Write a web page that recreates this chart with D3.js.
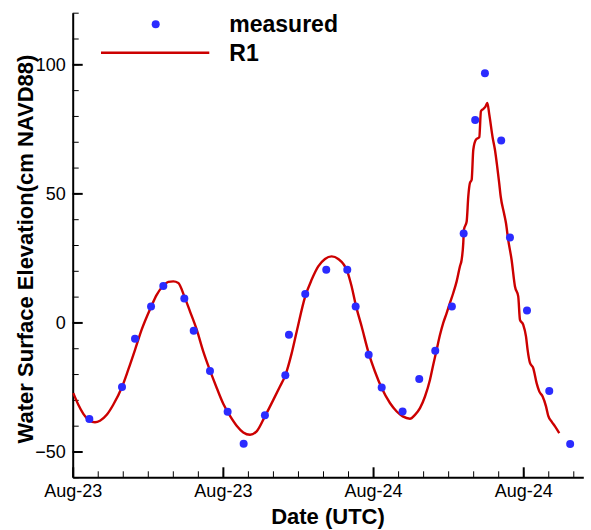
<!DOCTYPE html>
<html>
<head>
<meta charset="utf-8">
<script src="https://cdn.jsdelivr.net/npm/d3@7"></script>
<style>
  body { margin: 0; background: #fff; }
  svg { display: block; }
  text { font-family: "Liberation Sans", Arial, sans-serif; }
</style>
</head>
<body>
<div id="chart"></div>
<script>
// hours since Aug-23 00:00 UTC
var measHours = [1.33, 3.94, 4.98, 6.26, 7.24, 8.92, 9.67, 10.97, 12.38, 13.66,
  15.36, 16.99, 17.28, 18.58, 20.26, 21.94, 22.61, 23.65, 24.69, 26.36,
  27.69, 28.97, 30.30, 31.24, 32.16, 32.94, 34.24, 34.94, 36.30, 38.08, 39.75]
var measValues = [-37.4, -25.0, -6.3, 6.2, 14.1, 9.3, -3.2, -18.8, -34.6, -47.0,
  -36.0, -20.5, -4.8, 11.0, 20.4, 20.4, 6.2, -12.5, -25.2, -34.5,
  -21.9, -11.0, 6.2, 34.5, 78.4, 96.5, 70.5, 32.9, 4.6, -26.6, -47.1]

var r1Hours = [0.05, 0.45, 0.85, 1.33, 1.78, 2.18, 2.72, 3.24, 3.94, 4.44,
  4.98, 5.51, 6.26, 6.71, 7.24, 7.64, 8.04, 8.44, 8.92, 9.37,
  9.91, 10.43, 10.97, 11.51, 12.03, 12.57, 13.10, 13.63, 14.17, 14.70,
  15.36, 16.03, 16.56, 16.99, 17.50, 17.90, 18.58, 19.09, 19.62, 20.16,
  20.69, 21.22, 21.94, 22.29, 22.61, 23.09, 23.65, 24.15, 24.69, 25.35,
  25.89, 26.37, 26.95, 27.35, 27.75, 28.15, 28.55, 28.81, 29.08, 29.35,
  29.61, 29.88, 30.14, 30.41, 30.68, 30.94, 31.08, 31.21, 31.26, 31.48,
  31.61, 31.74, 31.88, 32.01, 32.22, 32.49, 32.62, 32.81, 32.97, 33.13,
  33.29, 33.56, 33.74, 33.92, 34.08, 34.20, 34.46, 34.62, 34.80, 35.07,
  35.34, 35.60, 35.74, 36.00, 36.22, 36.35, 36.54, 36.80, 37.07, 37.28,
  37.55, 37.82, 38.00, 38.27, 38.54, 38.88]
var r1Values = [-27.4, -31.9, -35.4, -38.0, -38.7, -38.1, -35.8, -31.9, -25.0, -18.3,
  -10.6, -2.8, 6.0, 10.7, 14.2, 15.7, 15.9, 15.3, 10.1, 4.3,
  -2.8, -11.2, -18.6, -25.4, -31.5, -36.2, -40.0, -42.6, -43.5, -42.2,
  -36.4, -30.0, -24.8, -20.5, -11.9, -3.5, 10.1, 16.5, 21.7, 24.6,
  25.6, 24.6, 19.8, 13.9, 6.9, -1.6, -11.9, -19.0, -25.4, -31.2,
  -34.5, -36.4, -37.3, -35.8, -33.2, -28.7, -22.2, -16.4, -10.6, -4.8,
  -0.2, 3.6, 7.5, 11.4, 15.9, 21.7, 24.3, 30.8, 35.9, 39.1,
  48.8, 54.0, 55.3, 66.9, 70.8, 71.8, 81.8, 82.7, 83.5, 85.0,
  80.5, 71.5, 66.9, 60.4, 54.0, 48.8, 42.4, 38.5, 32.0, 24.3,
  13.9, 10.1, 1.0, -0.9, -5.4, -10.6, -15.7, -17.7, -23.5, -26.7,
  -28.7, -32.5, -36.2, -38.4, -40.3, -42.9]

var yMajor = [-50, 0, 50, 100]
var legendLabels = ["measured", "R1"]

var base = Date.UTC(2017, 7, 23)
function toDate (h) { return new Date(base + h * 3600000) }

var width = 591
var height = 530
var plotLeft = 72.7, plotRight = 583.3, plotTop = 12.7, plotBottom = 477.3

var svg = d3.select('#chart').append('svg')
    .attr('width', width)
    .attr('height', height)

var x = d3.scaleUtc()
    .domain([toDate(0), toDate(40.8)])
    .range([plotLeft, plotRight])
var y = d3.scaleLinear()
    .domain([-60, 120])
    .range([plotBottom, plotTop])

// minor ticks
svg.append('g')
    .attr('transform', 'translate(0,' + plotBottom + ')')
    .call(d3.axisBottom(x).ticks(d3.utcHour.every(2)).tickSize(-6).tickFormat(''))
    .call(g => g.select('.domain').remove())
    .selectAll('line').attr('stroke-width', 1)

svg.append('g')
    .attr('transform', 'translate(' + plotLeft + ',0)')
    .call(d3.axisLeft(y).tickValues(d3.range(-60, 121, 10)).tickSize(-6).tickFormat(''))
    .call(g => g.select('.domain').remove())
    .selectAll('line').attr('stroke-width', 1)

// major ticks + labels
var xAxis = svg.append('g')
    .attr('transform', 'translate(0,' + plotBottom + ')')
    .call(d3.axisBottom(x)
        .ticks(d3.utcHour.every(12))
        .tickFormat(d3.utcFormat('%b-%d'))
        .tickSizeInner(-10).tickSizeOuter(0).tickPadding(7))
var yAxis = svg.append('g')
    .attr('transform', 'translate(' + plotLeft + ',0)')
    .call(d3.axisLeft(y)
        .tickValues(yMajor)
        .tickSizeInner(-10).tickSizeOuter(0).tickPadding(7))

;[xAxis, yAxis].forEach(function (g) {
    g.select('.domain').attr('stroke-width', 2)
    g.selectAll('.tick line').attr('stroke-width', 2)
    g.selectAll('.tick text')
        .attr('font-size', 18)
        .attr('font-family', '"Liberation Sans", Arial, sans-serif')
        .attr('fill', '#000')
})

// axis titles
svg.append('text')
    .attr('x', (plotLeft + plotRight) / 2)
    .attr('y', 524)
    .attr('text-anchor', 'middle')
    .attr('font-size', 22)
    .attr('font-weight', 'bold')
    .text('Date (UTC)')

svg.append('text')
    .attr('transform', 'translate(33,249)rotate(-90)')
    .attr('text-anchor', 'middle')
    .attr('font-size', 22)
    .attr('font-weight', 'bold')
    .text('Water Surface Elevation(cm NAVD88)')

// R1 line
var r1 = r1Hours.map((h, i) => ({ t: toDate(h), v: r1Values[i] }))
var line = d3.line()
    .x(d => x(d.t))
    .y(d => y(d.v))
    .curve(d3.curveMonotoneX)

svg.append('path')
    .datum(r1)
    .attr('d', line)
    .attr('fill', 'none')
    .attr('stroke', '#cc0000')
    .attr('stroke-width', 2.4)

// measured points
var meas = measHours.map((h, i) => ({ t: toDate(h), v: measValues[i] }))
svg.append('g').selectAll('circle')
    .data(meas)
    .enter()
    .append('circle')
    .attr('cx', d => x(d.t))
    .attr('cy', d => y(d.v))
    .attr('r', 4)
    .attr('fill', '#2b2bff')

// legend
var legend = svg.append('g')
legend.append('circle')
    .attr('cx', 155.7).attr('cy', 24.3).attr('r', 4)
    .attr('fill', '#2b2bff')
legend.append('line')
    .attr('x1', 101).attr('x2', 209.3)
    .attr('y1', 52.7).attr('y2', 52.7)
    .attr('stroke', '#cc0000')
    .attr('stroke-width', 2.4)
legend.selectAll('text')
    .data(legendLabels)
    .enter()
    .append('text')
    .attr('x', 229.3)
    .attr('y', (d, i) => 32 + i * 29)
    .attr('font-size', 23)
    .attr('font-weight', 'bold')
    .text(d => d)
</script>
</body>
</html>
